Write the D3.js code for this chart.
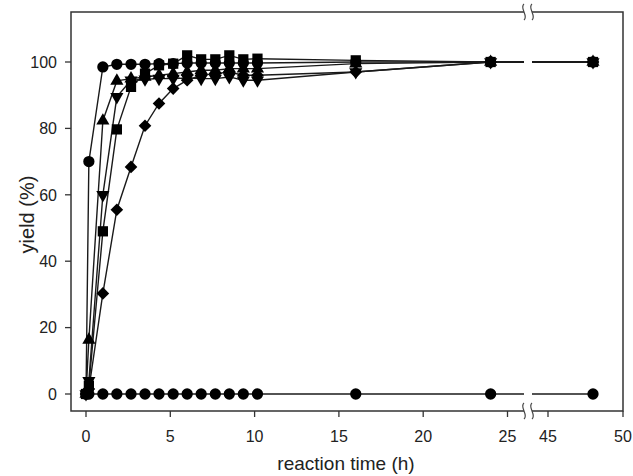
<!DOCTYPE html>
<html><head><meta charset="utf-8">
<script src="https://cdn.jsdelivr.net/npm/d3@7"></script>
<style>body{margin:0;background:#fff}svg{display:block}text{font-family:"Liberation Sans",Arial,sans-serif;fill:#222}</style>
</head><body><svg id="c" width="633" height="476"></svg>
<script>
const times = [0, 0.17, 1, 1.83, 2.67, 3.5, 4.33, 5.17, 6, 6.83, 7.67, 8.5, 9.33, 10.17, 16, 24, 48];
const circleSeries   = [0, 70, 98.5, 99.3, 99.3, 99.3, 99.5, 99.5, 99.7, 99.7, 99.7, 99.7, 99.7, 99.7, 100, 100, 100];
const triangleSeries = [0, 16.3, 82.3, 94.3, 95, 95.5, 96, 96.5, 97, 97.5, 97.5, 98, 98, 98, 99.5, 100, 100];
const downTriSeries  = [0, 4, 60, 89.5, 94.5, 94.8, 95, 95, 95.2, 95, 95, 95.5, 94.5, 94.5, 97, 100, 100];
const squareSeries   = [0, 2.5, 49, 79.7, 92.5, 96.5, 99, 99.5, 102, 100.8, 100.8, 102, 100.8, 101, 100.5, 100, 100];
const diamondSeries  = [0, 1.5, 30.3, 55.5, 68.4, 80.8, 87.5, 92, 94.5, 96, 96.5, 97, 96, 96, 97, 100, 100];
const zeroSeries     = [0, 0, 0, 0, 0, 0, 0, 0, 0, 0, 0, 0, 0, 0, 0, 0, 0];
const xTicks = [0, 5, 10, 15, 20, 25, 45, 50];
const yTicks = [0, 20, 40, 60, 80, 100];

const svg = d3.select("#c");
const L = 71, R = 623, T = 12, B = 411, BRK = 528;
const x = d3.scaleLinear().domain([-0.9, 0, 25, 45, 50]).range([L, 86, 507.5, 548, 623]);
const y = d3.scaleLinear().domain([0, 100]).range([394, 62]);

const series = [
  {v: zeroSeries, sym: d3.symbolCircle, size: 100, rot: 0},
  {v: diamondSeries, sym: d3.symbolSquare, size: 80, rot: 45},
  {v: squareSeries, sym: d3.symbolSquare, size: 105, rot: 0},
  {v: downTriSeries, sym: d3.symbolTriangle, size: 75, rot: 180},
  {v: triangleSeries, sym: d3.symbolTriangle, size: 75, rot: 0},
  {v: circleSeries, sym: d3.symbolCircle, size: 100, rot: 0}
];

const line = d3.line().x((d,i)=>x(times[i])).y(d=>y(d));
const g = svg.append("g");
series.forEach(s=>{
  g.append("path").attr("d", line(s.v)).attr("fill","none").attr("stroke","#1a1a1a").attr("stroke-width",1.4);
});
// break gap in data lines
g.append("rect").attr("x", BRK-4).attr("y", T+2).attr("width", 8).attr("height", B-T-4).attr("fill","#fff");
series.forEach(s=>{
  g.selectAll(null).data(s.v).enter().append("path")
    .attr("d", d3.symbol().type(s.sym).size(s.size))
    .attr("transform",(d,i)=>`translate(${x(times[i])},${y(d)}) rotate(${s.rot})`)
    .attr("fill","#000");
});

// frame
const fc = "#333";
svg.append("path").attr("d",`M${L},${T}H${R}V${B}H${L}Z`).attr("fill","none").attr("stroke",fc).attr("stroke-width",1.5);
// axis ticks
const ax = svg.append("g");
yTicks.forEach(t=>{
  ax.append("line").attr("x1",L-6).attr("x2",L).attr("y1",y(t)).attr("y2",y(t)).attr("stroke",fc).attr("stroke-width",1.3);
  ax.append("text").attr("x",L-14).attr("y",y(t)).attr("dy","0.36em").attr("text-anchor","end").attr("font-size",16).text(t);
});
xTicks.forEach(t=>{
  ax.append("line").attr("x1",x(t)).attr("x2",x(t)).attr("y1",B).attr("y2",B+6).attr("stroke",fc).attr("stroke-width",1.3);
  ax.append("text").attr("x",x(t)).attr("y",B+31).attr("text-anchor","middle").attr("font-size",16).text(t);
});
// axis break marks
[T, B].forEach(yy=>{
  svg.append("rect").attr("x",BRK-4).attr("y",yy-3).attr("width",8).attr("height",6).attr("fill","#fff");
  [-4, 4].forEach(dx=>{
    const cx = BRK+dx;
    svg.append("path").attr("d",`M${cx},${yy-8} C${cx-5},${yy-4} ${cx+5},${yy+4} ${cx},${yy+8}`)
      .attr("fill","none").attr("stroke","#444").attr("stroke-width",1.2);
  });
});
// titles
svg.append("text").attr("x",346).attr("y",470).attr("text-anchor","middle").attr("font-size",19).text("reaction time (h)");
svg.append("text").attr("transform",`translate(34,${(T+B)/2+3}) rotate(-90)`).attr("text-anchor","middle").attr("font-size",20).text("yield (%)");
</script></body></html>
